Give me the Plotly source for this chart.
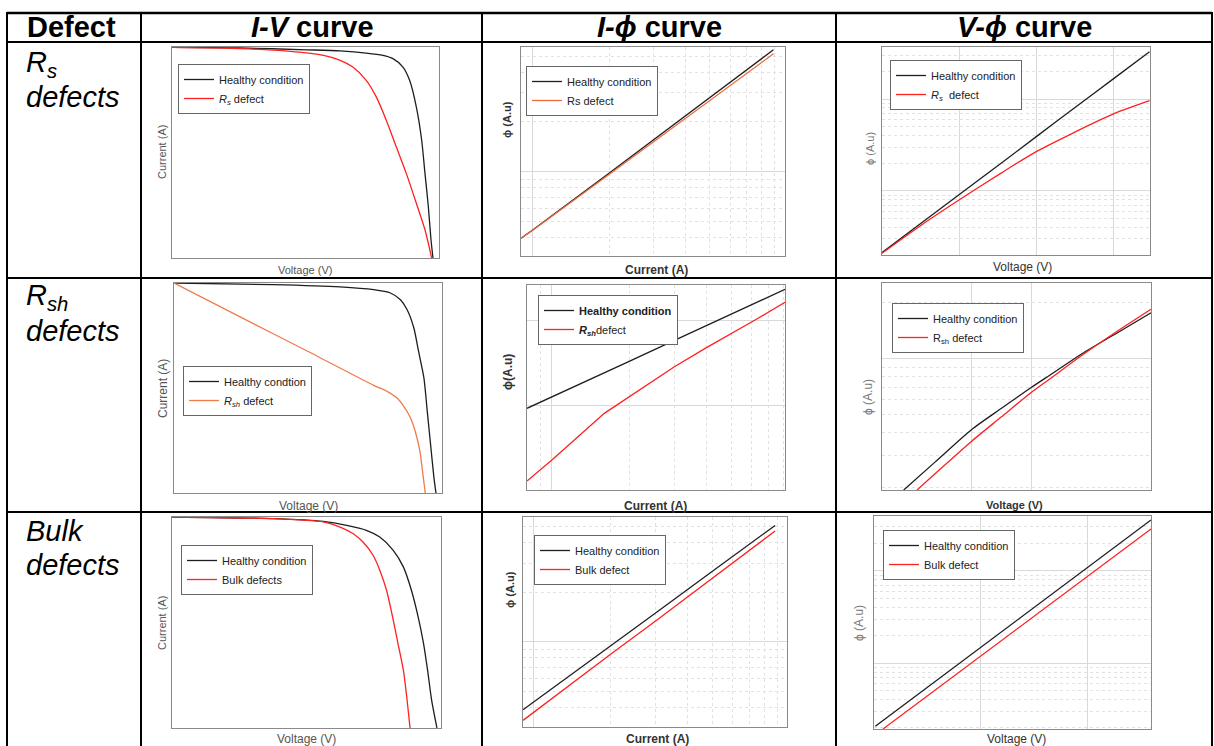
import plotly.graph_objects as go

W, H = 1214, 746
FONT = "Liberation Sans, Arial, Helvetica, sans-serif"

# ---------------- data ----------------
# Row 1 : Rs defects
iv_rs_v_healthy = [0, 10.2, 20.2, 25.2, 29.1, 31.6, 33.1, 34.6, 35.6, 36.6, 37.4, 37.9, 38.4, 38.8, 39.1]
iv_rs_i_healthy = [9.03, 9.01, 8.93, 8.88, 8.79, 8.69, 8.55, 8.19, 7.62, 6.48, 5.06, 3.63, 2.21, 0.78, 0]
iv_rs_v_defect = [0, 10.2, 17.7, 22.7, 25.2, 27.1, 29.1, 30.6, 32.1, 33.6, 35.1, 36.6, 37.9, 38.9]
iv_rs_i_defect = [9.03, 8.98, 8.86, 8.69, 8.48, 8.19, 7.62, 6.91, 5.91, 4.77, 3.63, 2.35, 1.21, 0]

iphi_rs_i = [0.9, 1, 2, 3, 5, 8.9]
iphi_rs_phi_healthy = [3.95, 4.43, 9.77, 15.6, 27.9, 54.6]
iphi_rs_phi_defect = [3.95, 4.41, 9.59, 15.1, 26.9, 51.6]

vphi_rs_v = [0, 0.47, 1, 1.54, 2, 2.47, 3, 3.46]
vphi_rs_phi_healthy = [2.12, 4.22, 9.12, 20.0, 39.2, 77.8, 168, 328]
vphi_rs_phi_defect = [2.09, 4.02, 7.98, 15.6, 26.9, 42.6, 69.2, 95.9]

# Row 2 : Rsh defects
iv_rsh_v_healthy = [0, 14.8, 24.8, 29.8, 32.3, 33.8, 34.8, 35.8, 36.5, 37.3, 37.8, 38.3, 38.8, 39.1]
iv_rsh_i_healthy = [9.05, 8.98, 8.88, 8.76, 8.62, 8.33, 7.90, 7.11, 6.11, 4.96, 3.52, 2.08, 0.65, 0]
iv_rsh_v_defect = [0, 9.8, 19.8, 29.8, 31.8, 33.3, 34.3, 35.3, 36.0, 36.7, 37.1, 37.5]
iv_rsh_i_defect = [9.05, 7.60, 6.13, 4.64, 4.38, 4.09, 3.73, 3.23, 2.66, 1.80, 0.93, 0]

iphi_rsh_i_healthy = [0.8, 1, 2, 3, 5.02, 8.09]
iphi_rsh_phi_healthy = [0.961, 1.098, 1.514, 1.761, 2.071, 2.361]
iphi_rsh_i_defect = [0.8, 1, 1.6, 2, 2.38, 3, 4, 5.02, 6.09, 8.09]
iphi_rsh_phi_defect = [0.106, 0.353, 0.902, 1.098, 1.251, 1.451, 1.675, 1.843, 1.988, 2.208]

vphi_rsh_v_healthy = [0.363, 0.882, 1.496, 1.999, 2.501, 2.836, 3.339, 3.953, 4.5]
vphi_rsh_phi_healthy = [1.95, 2.75, 4.13, 5.39, 7.00, 8.26, 10.6, 13.9, 17.7]
vphi_rsh_v_defect = [0.586, 0.882, 1.496, 1.999, 2.501, 2.836, 3.339, 3.953, 4.5]
vphi_rsh_phi_defect = [1.95, 2.38, 3.57, 4.85, 6.58, 7.89, 10.4, 14.2, 18.5]

# Row 3 : Bulk defects
iv_bulk_v_healthy = [0, 15.0, 22.5, 26.0, 28.9, 30.9, 32.9, 34.4, 35.6, 36.6, 37.4, 38.0, 38.6, 39.4]
iv_bulk_i_healthy = [9.05, 8.98, 8.86, 8.69, 8.48, 8.19, 7.62, 6.91, 5.91, 4.77, 3.63, 2.49, 1.21, 0]
iv_bulk_v_defect = [0, 15.0, 22.5, 25.0, 26.9, 28.4, 29.9, 30.9, 31.9, 32.9, 33.6, 34.4, 34.9, 35.4]
iv_bulk_i_defect = [9.05, 8.98, 8.84, 8.62, 8.34, 7.98, 7.41, 6.77, 5.91, 4.63, 3.63, 2.49, 1.35, 0]

iphi_bulk_i = [0.906, 1, 2, 3, 4.93, 8.78]
iphi_bulk_phi_healthy = [3.85, 4.31, 9.55, 15.0, 26.4, 50.9]
iphi_bulk_phi_defect = [3.32, 3.73, 8.41, 13.4, 24.0, 47.1]

vphi_bulk_v_healthy = [0.0125, 1, 2, 2.6]
vphi_bulk_phi_healthy = [2.06, 14.7, 108.7, 357]
vphi_bulk_v_defect = [0.0846, 1, 2, 2.6]
vphi_bulk_phi_defect = [1.93, 11.9, 86.7, 285]

# labels
header_labels = ["<b>Defect</b>", "<b><i>I-V</i> curve</b>", "<b><i>I-ϕ</i> curve</b>", "<b><i>V-ϕ</i> curve</b>"]
row_labels = [("<i>R<sub>s</sub></i>", "<i>defects</i>"),
              ("<i>R<sub>sh</sub></i>", "<i>defects</i>"),
              ("<i>Bulk</i>", "<i>defects</i>")]

BLACK = "#1e1e1e"
RED = "#ff2020"
ORANGE1 = "#ee6a3e"
ORANGE2 = "#f07a4c"

# ---------------- layout helpers ----------------
def px_x(p):
    return p / W

def px_y(p):
    return 1 - p / H

fig = go.Figure()
layout = dict(
    width=W, height=H, margin=dict(l=0, r=0, t=0, b=0),
    paper_bgcolor="white", plot_bgcolor="white",
    font=dict(family=FONT, color="#222"),
    showlegend=True,
)

# subplot frames in pixels (left, right, top, bottom)
frames = {
    1: (172, 439, 47, 258), 2: (521, 785, 47, 256), 3: (882, 1150, 47, 255),
    4: (174, 442, 283, 493), 5: (527, 785, 285, 490), 6: (882, 1151, 283, 490),
    7: (172, 441, 517, 728), 8: (523, 787, 517, 727), 9: (874, 1151, 516, 729),
}

MAJ = "#d9d9d9"
MIN = "#e2e2e2"


def base_axis(k, which):
    l, r, t, b = frames[k]
    ax = dict(showline=True, mirror=True, linecolor="#8a8a8a", linewidth=1,
              showticklabels=False, ticks="", zeroline=False, showgrid=False,
              fixedrange=True)
    if which == "x":
        ax["domain"] = [px_x(l), px_x(r)]
        ax["anchor"] = "y" if k == 1 else f"y{k}"
    else:
        ax["domain"] = [px_y(b), px_y(t)]
        ax["anchor"] = "x" if k == 1 else f"x{k}"
    return ax


def log_axis(ax, rng, major, minor):
    ax.update(type="log", range=rng, showgrid=True, gridcolor=MAJ, gridwidth=1,
              tickmode="array", tickvals=major,
              minor=dict(tickmode="array", tickvals=minor, showgrid=True,
                         gridcolor=MIN, griddash="dot", gridwidth=1))
    return ax


def lin_grid_axis(ax, rng, tickvals):
    ax.update(range=rng, showgrid=True, gridcolor=MAJ, gridwidth=1,
              tickmode="array", tickvals=tickvals)
    return ax


axes = {}
for k in range(1, 10):
    axes[k] = (base_axis(k, "x"), base_axis(k, "y"))

# I-V axes
for k in (1, 4, 7):
    axes[k][0].update(range=[0, 40])
    axes[k][1].update(range=[0, 9.05])

# I-phi Rs (log-log)
log_axis(axes[2][0], [-0.046, 0.995], [1], [0.9, 2, 3, 4, 5, 6, 7, 8, 9])
log_axis(axes[2][1], [0.489, 1.754], [10], [4, 5, 6, 7, 8, 9, 20, 30, 40, 50])
# V-phi Rs
lin_grid_axis(axes[3][0], [0, 3.466], [1, 2, 3])
log_axis(axes[3][1], [0.301, 2.567], [10, 100],
         [2, 3, 4, 5, 6, 7, 8, 9, 20, 30, 40, 50, 60, 70, 80, 90, 200, 300])
# I-phi Rsh
log_axis(axes[5][0], [-0.097, 0.908], [1], [0.9, 2, 3, 4, 5, 6, 7, 8])
lin_grid_axis(axes[5][1], [0, 2.412], [1, 2])
# V-phi Rsh
lin_grid_axis(axes[6][0], [0, 4.5], [1.5, 2.5])
log_axis(axes[6][1], [0.29, 1.409], [10], [2, 3, 4, 5, 6, 7, 8, 9, 20])
# I-phi Bulk
log_axis(axes[8][0], [-0.043, 0.99], [1], [2, 3, 4, 5, 6, 7, 8, 9])
log_axis(axes[8][1], [0.481, 1.758], [10], [4, 5, 6, 7, 8, 9, 20, 30, 40, 50])
# V-phi Bulk
lin_grid_axis(axes[9][0], [0, 2.6], [1, 2])
log_axis(axes[9][1], [0.285, 2.596], [10, 100],
         [2, 3, 4, 5, 6, 7, 8, 9, 20, 30, 40, 50, 60, 70, 80, 90, 200, 300])

for k in range(1, 10):
    xa, ya = axes[k]
    layout["xaxis" if k == 1 else f"xaxis{k}"] = xa
    layout["yaxis" if k == 1 else f"yaxis{k}"] = ya

# ---------------- traces ----------------
series = [
    (1, iv_rs_v_healthy, iv_rs_i_healthy, "Healthy condition", BLACK),
    (1, iv_rs_v_defect, iv_rs_i_defect, "<i>R<sub>s</sub></i> defect", RED),
    (2, iphi_rs_i, iphi_rs_phi_healthy, "Healthy condition", BLACK),
    (2, iphi_rs_i, iphi_rs_phi_defect, "Rs defect", ORANGE1),
    (3, vphi_rs_v, vphi_rs_phi_healthy, "Healthy condition", BLACK),
    (3, vphi_rs_v, vphi_rs_phi_defect, "<i>R<sub>s</sub></i>  defect", RED),
    (4, iv_rsh_v_healthy, iv_rsh_i_healthy, "Healthy condtion", BLACK),
    (4, iv_rsh_v_defect, iv_rsh_i_defect, "<i>R<sub>sh</sub></i> defect", ORANGE2),
    (5, iphi_rsh_i_healthy, iphi_rsh_phi_healthy, "<b>Healthy condition</b>", BLACK),
    (5, iphi_rsh_i_defect, iphi_rsh_phi_defect, "<b><i>R<sub>sh</sub></i></b>defect", RED),
    (6, vphi_rsh_v_healthy, vphi_rsh_phi_healthy, "Healthy condition", BLACK),
    (6, vphi_rsh_v_defect, vphi_rsh_phi_defect, "R<sub>sh</sub> defect", RED),
    (7, iv_bulk_v_healthy, iv_bulk_i_healthy, "Healthy condition", BLACK),
    (7, iv_bulk_v_defect, iv_bulk_i_defect, "Bulk defects", RED),
    (8, iphi_bulk_i, iphi_bulk_phi_healthy, "Healthy condition", BLACK),
    (8, iphi_bulk_i, iphi_bulk_phi_defect, "Bulk defect", RED),
    (9, vphi_bulk_v_healthy, vphi_bulk_phi_healthy, "Healthy condition", BLACK),
    (9, vphi_bulk_v_defect, vphi_bulk_phi_defect, "Bulk defect", RED),
]
SMOOTH = {1, 3, 4, 6, 7}
for k, xs, ys, name, color in series:
    shape = "spline" if k in SMOOTH else "linear"
    fig.add_trace(go.Scatter(
        x=xs, y=ys, mode="lines", name=name,
        line=dict(color=color, width=1.3, shape=shape, smoothing=0.7),
        xaxis="x" if k == 1 else f"x{k}", yaxis="y" if k == 1 else f"y{k}",
        legend="legend" if k == 1 else f"legend{k}",
        hoverinfo="skip",
    ))

# ---------------- legends ----------------
legend_pos = {1: (178, 64), 2: (526, 66), 3: (890, 60), 4: (183, 366), 5: (538, 295),
              6: (892, 303), 7: (181, 545), 8: (534, 535), 9: (883, 530)}
for k, (lx, ly) in legend_pos.items():
    layout["legend" if k == 1 else f"legend{k}"] = dict(
        x=px_x(lx), y=px_y(ly), xanchor="left", yanchor="top",
        bgcolor="white", bordercolor="#666", borderwidth=1,
        font=dict(family=FONT, size=11, color="#222"),
        itemwidth=30, tracegroupgap=0,
    )

# ---------------- annotations ----------------
ann = []

def text(x, y, s, size, color="#000", angle=0, xanchor="center"):
    ann.append(dict(x=px_x(x), y=px_y(y), xref="paper", yref="paper", text=s,
                    showarrow=False, xanchor=xanchor, yanchor="middle", textangle=angle,
                    font=dict(family=FONT, size=size, color=color)))

# header
text(25, 27, header_labels[0], 29, xanchor="left")
text(312, 27, header_labels[1], 29)
text(659, 27, header_labels[2], 29)
text(1024, 27, header_labels[3], 29)
# row labels
for (l1, l2), (y1, y2) in zip(row_labels, [(64, 97), (297, 331), (531, 565)]):
    text(24, y1, l1, 29, xanchor="left")
    text(24, y2, l2, 29, xanchor="left")

# axis titles
GRAY = "#555"
DARK = "#333"
LGRAY = "#777"
# I-V
text(162, 152, "Current (A)", 11, GRAY, -90)
text(305, 270, "Voltage (V)", 11, GRAY)
text(163, 389, "Current (A)", 12, GRAY, -90)
text(308, 506, "Voltage (V)", 12, GRAY)
text(162, 623, "Current (A)", 11, GRAY, -90)
text(306, 739, "Voltage (V)", 12, GRAY)
# I-phi
text(507, 120, "<b>ϕ (A.u)</b>", 11, DARK, -90)
text(656, 270, "<b>Current (A)</b>", 12, DARK)
text(508, 372, "<b>ϕ(A.u)</b>", 12, DARK, -90)
text(655, 506, "<b>Current (A)</b>", 12, DARK)
text(510, 590, "<b>ϕ (A.u)</b>", 11, DARK, -90)
text(658, 739, "<b>Current (A)</b>", 12, DARK)
# V-phi
text(870, 149, "ϕ (A.u)", 11, LGRAY, -90)
text(1022, 267, "Voltage (V)", 12, DARK)
text(868, 397, "ϕ (A.u)", 12, LGRAY, -90)
text(1014, 505, "<b>Voltage (V)</b>", 11, DARK)
text(859, 623, "ϕ (A.u)", 12, LGRAY, -90)
text(1016, 739, "Voltage (V)", 12, DARK)

layout["annotations"] = ann

# ---------------- table lines ----------------
shapes = []
def line(x0, y0, x1, y1, w=2):
    shapes.append(dict(type="line", xref="paper", yref="paper",
                       x0=px_x(x0), y0=px_y(y0), x1=px_x(x1), y1=px_y(y1),
                       line=dict(color="black", width=w), layer="below"))

for yy, w in [(13, 2.5), (42, 2), (278, 2), (512, 2)]:
    line(7, yy, 1212, yy, w)
for xx in [7, 141, 482, 836, 1212]:
    line(xx, 12, xx, 746, 2)
layout["shapes"] = shapes

fig.update_layout(**layout)
fig.write_html(
    "out.html",
    config={"displayModeBar": False},
    post_script="document.body.style.margin='0';document.body.style.overflow='hidden';",
)
